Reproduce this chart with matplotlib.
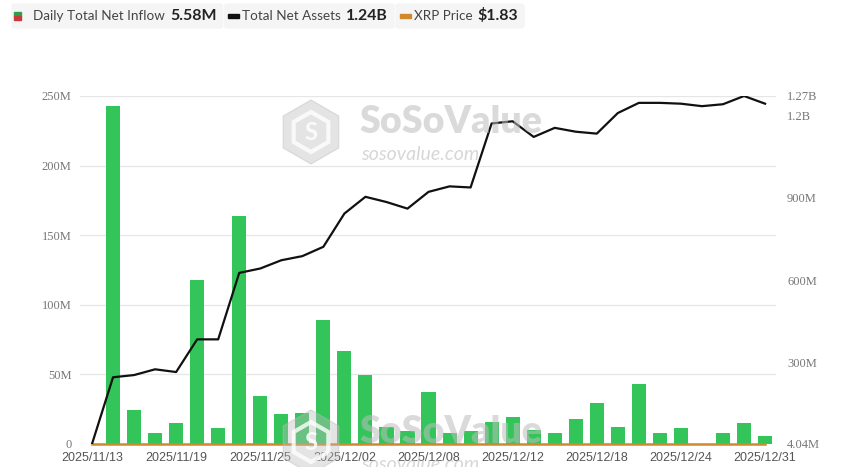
import matplotlib.pyplot as plt
import numpy as np
from matplotlib.patches import FancyBboxPatch, RegularPolygon, Rectangle

# trading days shown on the chart
dates = ['2025/11/13', '2025/11/14', '2025/11/17', '2025/11/18', '2025/11/19',
         '2025/11/20', '2025/11/21', '2025/11/24', '2025/11/25', '2025/11/26',
         '2025/11/28', '2025/12/01', '2025/12/02', '2025/12/03', '2025/12/04',
         '2025/12/05', '2025/12/08', '2025/12/09', '2025/12/10', '2025/12/11',
         '2025/12/12', '2025/12/15', '2025/12/16', '2025/12/17', '2025/12/18',
         '2025/12/19', '2025/12/22', '2025/12/23', '2025/12/24', '2025/12/26',
         '2025/12/29', '2025/12/30', '2025/12/31']

# daily total net inflow (M USD)
inflow_m = [0, 243, 24.4, 7.9, 15, 117.8, 11.5, 163.8, 34.5, 21.6, 22.3,
            89, 66.8, 49.6, 12.2, 9.3, 37.4, 7.9, 9.3, 15.8, 19.4, 10,
            7.9, 18, 29.5, 12.2, 43.1, 7.9, 11.5, 0, 7.9, 15, 5.58]

# total net assets (M USD)
assets_m = [4.04, 247, 255, 276, 266, 385, 385, 627, 643, 673, 688, 722,
            843, 904, 885, 861, 922, 942, 938, 1171, 1179, 1122, 1155, 1141,
            1134, 1209, 1246, 1246, 1243, 1234, 1241, 1271, 1243]

# XRP price (USD) - shares the inflow scale, so it sits flat at zero
xrp_price = [2.35, 2.30, 2.17, 2.20, 2.10, 1.98, 1.96, 2.23, 2.20, 2.20, 2.20,
             2.03, 2.12, 2.20, 2.08, 2.05, 2.08, 2.07, 2.05, 2.00, 2.00, 1.92,
             1.90, 1.85, 1.83, 1.90, 1.92, 1.88, 1.87, 1.86, 1.86, 1.87, 1.83]

left_ticks = [0, 50, 100, 150, 200, 250]
left_labels = ['0', '50M', '100M', '150M', '200M', '250M']
right_ticks = [4.04, 300, 600, 900, 1200, 1271]
right_labels = ['4.04M', '300M', '600M', '900M', '1.2B', '1.27B']

W, H = 842, 467
fig = plt.figure(figsize=(W / 100, H / 100), dpi=100)
ax = fig.add_axes([80 / W, (H - 444) / H, 696 / W, 348 / H])
x = np.arange(len(dates))

ax.bar(x, inflow_m, width=0.67, color='#34c55a', zorder=2)
ax.plot(x, np.array(xrp_price) / 1e6, color='#d08a2c', lw=1.8, zorder=4, clip_on=False)
ax.set_xlim(-0.57, 32.52)
ax.set_ylim(0, 250)
ax.set_yticks(left_ticks)
ax.set_yticklabels(left_labels, family='Liberation Serif', fontsize=9, color='#777777')
ax.set_xticks(x[::4])
ax.set_xticklabels(dates[::4], family='Liberation Sans', fontsize=9, color='#555555')
ax.tick_params(axis='both', length=0)
ax.tick_params(axis='y', pad=6)
ax.tick_params(axis='x', pad=6)
ax.yaxis.grid(True, color='#e6e6e6', lw=0.9, zorder=0)
ax.set_axisbelow(True)
for s in ax.spines.values():
    s.set_visible(False)

ax2 = ax.twinx()
ax2.plot(x, assets_m, color='#111111', lw=1.6, zorder=5)
ax2.set_ylim(4.04, 1271)
ax2.set_yticks(right_ticks)
ax2.set_yticklabels(right_labels, family='Liberation Serif', fontsize=9, color='#777777')
ax2.tick_params(axis='y', length=0, pad=8)
for s in ax2.spines.values():
    s.set_visible(False)

# watermarks (logo hexagon + name + url)
wm = '#bdbdbd'
for cx, cy in [(311, 132), (311, 442)]:
    hexa = RegularPolygon((cx / 100, (H - cy) / 100), 6, radius=0.32, orientation=0,
                          transform=fig.dpi_scale_trans, color=wm, alpha=0.4, zorder=3)
    fig.patches.append(hexa)
    inner = RegularPolygon((cx / 100, (H - cy) / 100), 6, radius=0.2, orientation=0,
                           transform=fig.dpi_scale_trans, fill=False, ec='white',
                           lw=3, alpha=0.8, zorder=3)
    fig.patches.append(inner)
    fig.text(cx / W, 1 - cy / H, 'S', family='Lato', fontweight='bold', fontsize=17,
             color='white', alpha=0.85, ha='center', va='center', zorder=3)
    fig.text((cx + 48) / W, 1 - (cy - 10) / H, 'SoSoValue', family='Lato',
             fontweight='heavy', fontsize=27, color=wm, alpha=0.55,
             ha='left', va='center', zorder=3)
    fig.text((cx + 50) / W, 1 - (cy + 22) / H, 'sosovalue.com', family='Lato',
             style='italic', fontsize=14, color=wm, alpha=0.6,
             ha='left', va='center', zorder=3)

# legend row
fig.canvas.draw()
r = fig.canvas.get_renderer()
ly = 1 - 16 / H


def put(px, txt, **kw):
    t = fig.text(px / W, ly, txt, va='center', ha='left', **kw)
    return t.get_window_extent(renderer=r).x1


items = [('Daily Total Net Inflow', '5.58M', None),
         ('Total Net Assets', '1.24B', '#111111'),
         ('XRP Price', '$1.83', '#d08a2c')]
px = 12
for name, val, col in items:
    start = px
    if col is None:
        fig.patches.append(Rectangle(((px + 2) / W, 1 - 16 / H), 7 / W, 4 / H,
                                     transform=fig.transFigure, color='#2f9e4a'))
        fig.patches.append(Rectangle(((px + 2) / W, 1 - 20 / H), 7 / W, 4 / H,
                                     transform=fig.transFigure, color='#c83a3a'))
        tx = px + 21
    else:
        fig.patches.append(Rectangle(((px + 4) / W, 1 - 17.5 / H), 11 / W, 3 / H,
                                     transform=fig.transFigure, color=col))
        tx = px + 18
    e = put(tx, name, family='Lato', fontsize=9.7, color='#444444')
    e = put(e + 5, val, family='Lato', fontweight='bold', fontsize=11.4, color='#222222')
    box = FancyBboxPatch((start / W, 1 - 28 / H), (e + 6 - start) / W, 24 / H,
                         boxstyle='round,pad=0,rounding_size=0.004',
                         transform=fig.transFigure, color='#f5f5f5', zorder=-1)
    fig.patches.append(box)
    px = e + 8

fig.savefig('out.png', dpi=100)
